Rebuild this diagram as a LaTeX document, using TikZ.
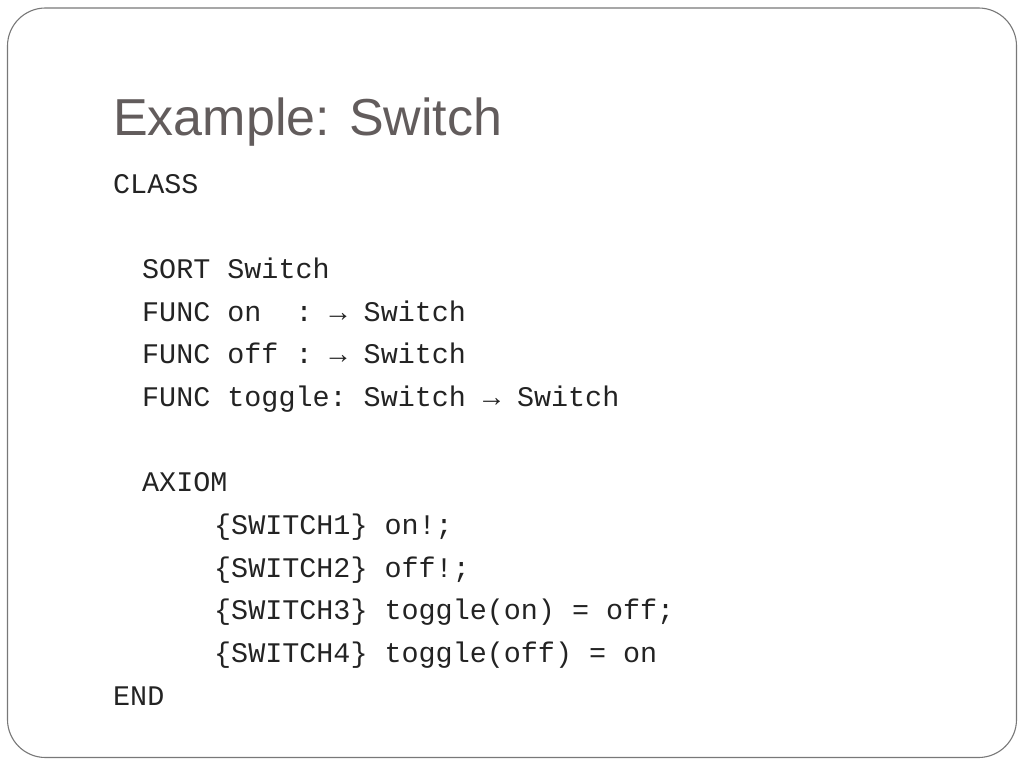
\documentclass[tikz,border=0pt]{standalone}
\usepackage{fontspec}
\setmainfont{Liberation Sans}
\setmonofont{Liberation Mono}
\definecolor{titlegray}{RGB}{98,92,92}
\definecolor{framegray}{RGB}{120,120,120}
\definecolor{codegray}{RGB}{35,35,35}
\tikzset{
  code/.style={anchor=base west, inner sep=0pt, text=codegray, font=\ttfamily\fontsize{28.4}{28.4}\selectfont},
  slidetitle/.style={anchor=base west, inner sep=0pt, text=titlegray, font=\fontsize{52}{52}\selectfont}
}

\begin{document}
\begin{tikzpicture} [x=1pt, y=-1pt]
\useasboundingbox (0,0) rectangle (1024,768);
\draw[framegray, line width=1.1pt, rounded corners=38pt] (7.5,8) rectangle (1016.5,757.5);

\node[slidetitle] (title) at (113,135) {Example: Switch};

\node[code] (class) at (113,193) {CLASS};
\node[code] (sort) at (142,278.3) {SORT Switch};
\node[code] (funcon) at (142,321) {FUNC on\ \ : → Switch};
\node[code] (funcoff) at (142,363.7) {FUNC off : → Switch};
\node[code] (functoggle) at (142,406.3) {FUNC toggle: Switch → Switch};
\node[code] (axiom) at (142,491.7) {AXIOM};
\node[code] (switchA) at (214,534.3) {\{SWITCH1\} on!;};
\node[code] (switchB) at (214,577) {\{SWITCH2\} off!;};
\node[code] (switchC) at (214,619.7) {\{SWITCH3\} toggle(on) = off;};
\node[code] (switchD) at (214,662.3) {\{SWITCH4\} toggle(off) = on};
\node[code] (end) at (113,705) {END};

\end{tikzpicture}
\end{document}
